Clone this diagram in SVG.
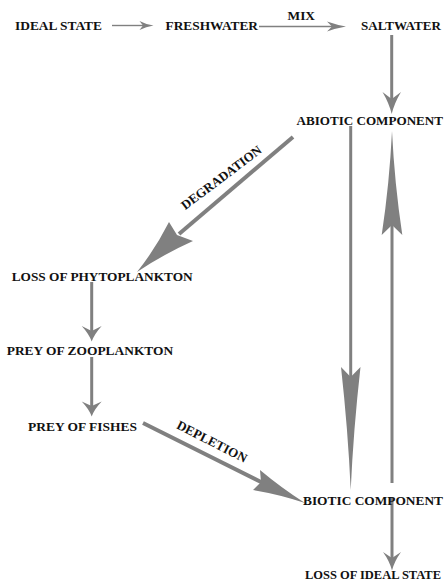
<svg xmlns="http://www.w3.org/2000/svg" width="444" height="584" viewBox="0 0 444 584">
<style>
.l{font-family:"Liberation Serif","Times New Roman",serif;font-weight:bold;font-size:13px;fill:#111}
.ln{stroke:#808080;fill:none}
.hd{fill:#808080;stroke:none}
</style>
<rect width="444" height="584" fill="#fff"/>
<g id="connectors">
<!-- ideal -> fresh -->
<line class="ln" x1="112" y1="25.5" x2="144" y2="25.5" stroke-width="1.4"/>
<path class="hd" d="M153.5,25.5 Q146,24.5 139.5,21 L143,25.5 L139.5,30 Q146,26.5 153.5,25.5 Z"/>
<!-- fresh -> salt -->
<line class="ln" x1="259" y1="26.5" x2="333" y2="26.5" stroke-width="1.5"/>
<path class="hd" d="M346,26.5 Q337,25 327,21.5 L332,26.5 L327,31.5 Q337,28 346,26.5 Z"/>
<!-- salt -> abiotic -->
<line class="ln" x1="391.7" y1="35" x2="391.7" y2="100" stroke-width="3"/>
<path class="hd" d="M391.7,114 Q389,103 382.5,92 L391.7,99 L401,92 Q394.4,103 391.7,114 Z"/>
<!-- degradation -->
<line class="ln" x1="293" y1="137" x2="179" y2="234" stroke-width="4"/>
<path class="hd" d="M137,272 Q155,249.5 169,222 L177,235 L193,241 Q163,254.5 137,272 Z"/>
<!-- phyto -> zoo -->
<line class="ln" x1="91.7" y1="282" x2="91.7" y2="332" stroke-width="3"/>
<path class="hd" d="M91.7,341.5 Q89,334 81.7,326 L91.7,331 L101.7,326 Q94.4,334 91.7,341.5 Z"/>
<!-- zoo -> fishes -->
<line class="ln" x1="91.7" y1="357" x2="91.7" y2="407" stroke-width="3"/>
<path class="hd" d="M91.7,416.5 Q89,409 81.7,401.5 L91.7,406 L101.7,401.5 Q94.4,409 91.7,416.5 Z"/>
<!-- depletion -->
<line class="ln" x1="143" y1="423" x2="263" y2="483" stroke-width="4"/>
<path class="hd" d="M305,503 Q281.7,488.2 260,470 L261,482 L253,490 Q280,494.5 305,503 Z"/>
<!-- abiotic -> biotic (down) -->
<line class="ln" x1="350.7" y1="126" x2="350.7" y2="380" stroke-width="3"/>
<path class="hd" d="M350.7,490 Q348,430 341,367 L350.7,377 L360.5,367 Q353.4,430 350.7,490 Z"/>
<!-- biotic -> abiotic (up) -->
<line class="ln" x1="392" y1="483" x2="392" y2="222" stroke-width="3"/>
<path class="hd" d="M392,131 Q389.5,183 381.7,235 L392,225 L402.3,235 Q394.5,183 392,131 Z"/>
<!-- biotic -> loss of ideal -->
<line class="ln" x1="392" y1="497" x2="392" y2="560" stroke-width="3"/>
<path class="hd" d="M392,570.5 Q389.5,561 383,552 L392,558 L401,552 Q394.5,561 392,570.5 Z"/>
</g>
<g id="n-ideal"><text class="l" x="15" y="30" textLength="87" lengthAdjust="spacingAndGlyphs">IDEAL STATE</text></g>
<g id="n-fresh"><text class="l" x="165.5" y="30" textLength="92.5" lengthAdjust="spacingAndGlyphs">FRESHWATER</text></g>
<g id="n-salt"><text class="l" x="361" y="30" textLength="80" lengthAdjust="spacingAndGlyphs">SALTWATER</text></g>
<g id="lbl-mix"><text class="l" x="287.5" y="19.5" textLength="27.5" lengthAdjust="spacingAndGlyphs">MIX</text></g>
<g id="n-abiotic"><text class="l" x="296.5" y="125" textLength="146.5" lengthAdjust="spacingAndGlyphs">ABIOTIC COMPONENT</text></g>
<g id="lbl-degradation"><text class="l" x="0" y="0" text-anchor="middle" textLength="97" lengthAdjust="spacingAndGlyphs" transform="translate(224,181) rotate(-37)">DEGRADATION</text></g>
<g id="n-phyto"><text class="l" x="11.7" y="280.5" textLength="181" lengthAdjust="spacingAndGlyphs">LOSS OF PHYTOPLANKTON</text></g>
<g id="n-zoo"><text class="l" x="6.7" y="355" textLength="166.5" lengthAdjust="spacingAndGlyphs">PREY OF ZOOPLANKTON</text></g>
<g id="n-fishes"><text class="l" x="28" y="431" textLength="109" lengthAdjust="spacingAndGlyphs">PREY OF FISHES</text></g>
<g id="lbl-depletion"><text class="l" x="0" y="0" text-anchor="middle" textLength="77" lengthAdjust="spacingAndGlyphs" transform="translate(210,445.5) rotate(27)">DEPLETION</text></g>
<g id="n-biotic"><text class="l" x="303" y="505" textLength="140" lengthAdjust="spacingAndGlyphs">BIOTIC COMPONENT</text></g>
<g id="n-loss-ideal"><text class="l" x="305" y="579" style="font-size:12.2px" textLength="136" lengthAdjust="spacingAndGlyphs">LOSS OF IDEAL STATE</text></g>
</svg>
